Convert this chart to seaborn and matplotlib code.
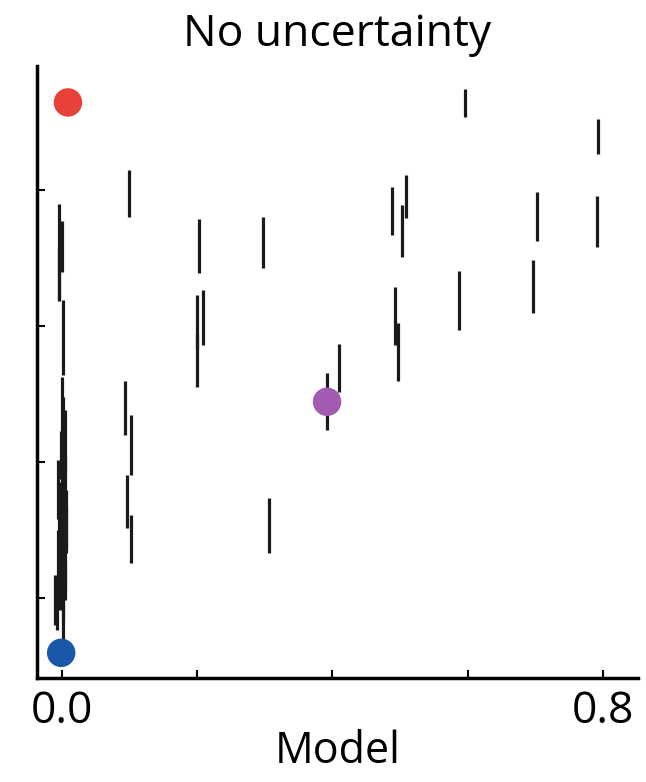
import numpy as np
import pandas as pd
import matplotlib
matplotlib.use("Agg")
import matplotlib.pyplot as plt
import seaborn as sns

# model prediction (x), human mean (y) and half-width of the vertical bar
model_x = [0.099, 0.203, 0.200, 0.200, 0.209, 0.297, 0.488, 0.509, 0.503, 0.493,
           0.497, 0.410, 0.392, 0.596, 0.793, 0.703, 0.791, 0.697, 0.587, 0.093,
           0.102, 0.096, 0.102, 0.306,
           -0.004, 0.000, -0.004, 0.001, 0.000, 0.004, -0.006, 0.000, 0.003, -0.001,
           0.006, -0.006, 0.004, -0.010, -0.003, 0.001, -0.007, 0.004,
           0.002, -0.002, 0.005, 0.001, -0.004, 0.003, 0.000, 0.006, -0.002, 0.002]
human_y = [0.794, 0.717, 0.605, 0.548, 0.612, 0.722, 0.768, 0.790, 0.739, 0.614,
           0.561, 0.538, 0.489, 0.927, 0.878, 0.761, 0.753, 0.658, 0.637, 0.479,
           0.425, 0.342, 0.286, 0.306,
           0.707, 0.716, 0.676, 0.583, 0.478, 0.430, 0.359, 0.388, 0.344, 0.300,
           0.315, 0.256, 0.256, 0.197, 0.226, 0.175, 0.190, 0.226,
           0.455, 0.410, 0.370, 0.330, 0.290, 0.280, 0.240, 0.300, 0.330, 0.205]
human_err = [0.034, 0.039, 0.040, 0.039, 0.040, 0.038, 0.035, 0.032, 0.038, 0.042,
             0.043, 0.035, 0.042, 0.020, 0.026, 0.036, 0.038, 0.039, 0.043, 0.040,
             0.044, 0.039, 0.035, 0.040,
             0.071, 0.037, 0.038, 0.055, 0.046, 0.046, 0.044, 0.044, 0.044, 0.044,
             0.044, 0.044, 0.044, 0.037, 0.044, 0.037, 0.037, 0.029,
             0.040, 0.035, 0.040, 0.045, 0.040, 0.040, 0.045, 0.035, 0.040, 0.040]

# highlighted items
dot_names = ["red", "purple", "blue"]
dot_x = [0.009, 0.392, -0.001]
dot_y = [0.928, 0.488, 0.119]
dot_colors = ["#E8413A", "#A25BB3", "#1957A8"]

df = pd.DataFrame({"model": model_x, "human": human_y, "err": human_err})
dots = pd.DataFrame({"name": dot_names, "model": dot_x, "human": dot_y})

sns.set_style("ticks")
plt.rcParams["font.family"] = ["Open Sans", "DejaVu Sans"]
plt.rcParams["text.color"] = "black"
plt.rcParams["axes.labelcolor"] = "black"
plt.rcParams["xtick.color"] = "black"
plt.rcParams["ytick.color"] = "black"

fig = plt.figure(figsize=(6.46, 7.82), dpi=100)
ax = fig.add_axes([0.057, 0.133, 0.931, 0.783])

ax.errorbar(df["model"], df["human"], yerr=df["err"], fmt="none",
            ecolor="#1a1a1a", elinewidth=2.3, capsize=0)
sns.scatterplot(data=dots, x="model", y="human", hue="name",
                palette=dict(zip(dot_names, dot_colors)), s=420,
                edgecolor="none", legend=False, ax=ax, zorder=5)

ax.set_xlim(-0.037, 0.852)
ax.set_ylim(0.082, 0.982)
ax.set_xticks([0.0, 0.2, 0.4, 0.6, 0.8])
ax.set_xticklabels(["0.0", "", "", "", "0.8"])
ax.set_yticks([0.2, 0.4, 0.6, 0.8])
ax.set_yticklabels([])
ax.tick_params(direction="in", length=6, width=1.5, labelsize=32, pad=8)

ax.set_xlabel("Model", fontsize=31, labelpad=-3)
ax.set_ylabel("")
ax.set_title("No uncertainty", fontsize=32, pad=14)

for side in ["left", "bottom"]:
    ax.spines[side].set_linewidth(2.5)
    ax.spines[side].set_color("black")
sns.despine(ax=ax)

fig.savefig("out.png", dpi=100)
